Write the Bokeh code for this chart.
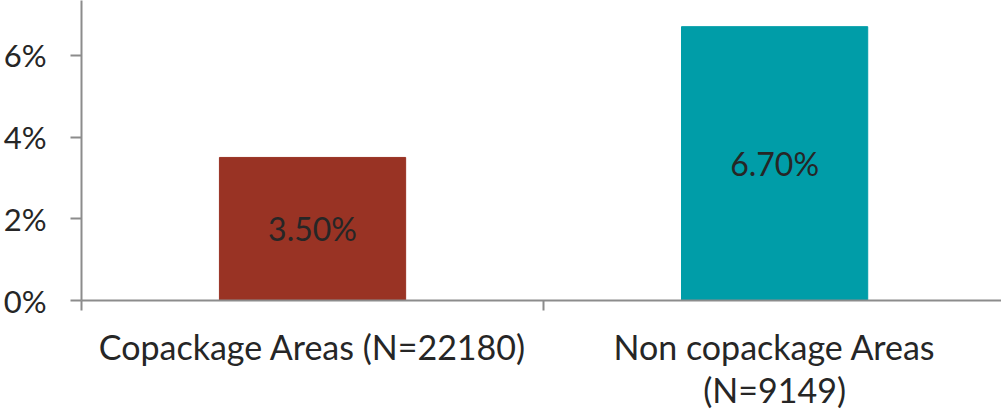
from bokeh.plotting import figure
from bokeh.models import Range1d, FixedTicker, ColumnDataSource, LabelSet
from bokeh.core.properties import value
from bokeh.embed import file_html
from bokeh.resources import INLINE

# Data
categories = ["Copackage Areas (N=22180)", "Non copackage Areas\n(N=9149)"]
rates = [3.5, 6.7]
bar_labels = ["3.50%", "6.70%"]
bar_colors = ["#993324", "#009DA8"]
y_ticks = [0, 2, 4, 6]
y_tick_labels = ["0%", "2%", "4%", "6%"]

FONT = "Lato"
TEXT = "#262626"
AXIS = "#8C8C8C"

centers = [i + 0.5 for i in range(len(categories))]

p = figure(width=1001, height=412, output_backend="svg", toolbar_location=None,
           x_range=Range1d(0, 1.991), y_range=Range1d(0, 7.34),
           min_border_left=81, min_border_right=0, min_border_top=0, min_border_bottom=111)
p.outline_line_color = None
p.xgrid.visible = False
p.ygrid.visible = False

src = ColumnDataSource(dict(x=centers, top=rates, mid=[r / 2 for r in rates],
                            label=bar_labels, color=bar_colors))
p.vbar(x="x", top="top", bottom=0, width=0.403, color="color", source=src)

labels = LabelSet(x="x", y="mid", text="label", source=src,
                  text_align="center", text_baseline="middle",
                  text_font=value(FONT), text_font_size="32px", text_color=TEXT)
p.add_layout(labels)

# y axis
p.yaxis.ticker = FixedTicker(ticks=y_ticks, minor_ticks=[])
p.yaxis.major_label_overrides = {t: l for t, l in zip(y_ticks, y_tick_labels)}
p.yaxis.major_label_text_font = FONT
p.yaxis.major_label_text_font_size = "31px"
p.yaxis.major_label_text_color = TEXT
p.yaxis.major_label_standoff = 24
p.yaxis.axis_line_color = AXIS
p.yaxis.axis_line_width = 2
p.yaxis.major_tick_line_color = AXIS
p.yaxis.major_tick_line_width = 2
p.yaxis.major_tick_out = 11
p.yaxis.major_tick_in = 0

# x axis: labels at category centres, tick marks at category boundaries
p.xaxis.ticker = FixedTicker(ticks=centers, minor_ticks=[0, 1, 2])
p.xaxis.major_label_overrides = {c: l for c, l in zip(centers, categories)}
p.xaxis.major_label_text_font = FONT
p.xaxis.major_label_text_font_size = "34px"
p.xaxis.major_label_text_color = TEXT
p.xaxis.major_label_text_line_height = 1.05
p.xaxis.major_label_standoff = 15
p.xaxis.major_tick_line_color = None
p.xaxis.axis_line_color = AXIS
p.xaxis.axis_line_width = 2
p.xaxis.minor_tick_line_color = AXIS
p.xaxis.minor_tick_line_width = 2
p.xaxis.minor_tick_out = 10
p.xaxis.minor_tick_in = 0

open("out.html", "w").write(file_html(p, INLINE))
